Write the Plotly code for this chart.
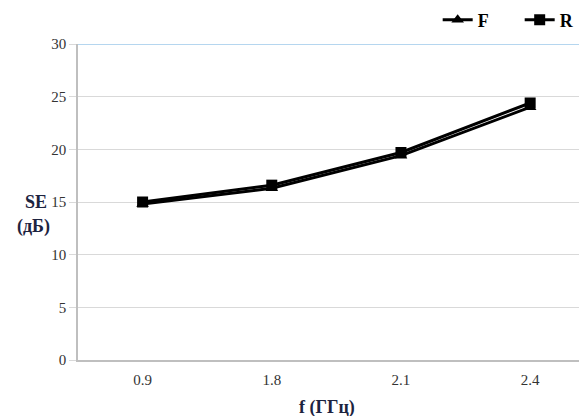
import plotly.graph_objects as go

categories = ["0.9", "1.8", "2.1", "2.4"]
F_values = [14.8, 16.3, 19.4, 24.0]
R_values = [15.0, 16.6, 19.7, 24.4]
y_ticks = [0, 5, 10, 15, 20, 25, 30]

serif = "Liberation Serif"

fig = go.Figure()
fig.add_trace(go.Scatter(
    x=categories, y=F_values, name="F", mode="lines+markers",
    line=dict(color="black", width=3),
    marker=dict(symbol="triangle-up", size=11, color="black"),
))
fig.add_trace(go.Scatter(
    x=categories, y=R_values, name="R", mode="lines+markers",
    line=dict(color="black", width=3),
    marker=dict(symbol="square", size=11, color="black"),
))

fig.add_shape(type="line", xref="paper", yref="y", x0=0, x1=1, y0=30, y1=30,
              line=dict(color="#9DC8EA", width=1.5))

fig.add_annotation(text="<b>SE</b>", xref="paper", yref="paper", x=-0.082, y=0.5,
                   showarrow=False, font=dict(family=serif, size=18, color="#1C2340"),
                   xanchor="center", yanchor="middle")
fig.add_annotation(text="<b>(дБ)</b>", xref="paper", yref="paper", x=-0.087, y=0.424,
                   showarrow=False, font=dict(family=serif, size=18, color="#1C2340"),
                   xanchor="center", yanchor="middle")
fig.add_annotation(text="<b>f (ГГц)</b>", xref="paper", yref="paper", x=0.49, y=-0.149,
                   showarrow=False, font=dict(family=serif, size=18, color="#1C2340"),
                   xanchor="center", yanchor="middle")

fig.update_layout(
    width=587, height=416,
    margin=dict(l=70, r=8, t=36, b=64, autoexpand=False),
    paper_bgcolor="white", plot_bgcolor="white",
    font=dict(family=serif, size=15, color="#333333"),
    showlegend=True,
    legend=dict(orientation="h", x=0.732, xref="container", xanchor="left",
                y=0.971, yref="container", yanchor="middle",
                font=dict(family=serif, size=18, color="black", weight="bold"),
                entrywidth=37, bgcolor="rgba(0,0,0,0)"),
    xaxis=dict(type="category", range=[-0.5, 3.44], showgrid=False,
               showline=True, linecolor="#BFBFBF", linewidth=1.5,
               ticks="", ticklabelstandoff=5,
               tickfont=dict(family=serif, size=15, color="#333333")),
    yaxis=dict(range=[0, 30], tickvals=y_ticks, showgrid=True, gridcolor="#D9D9D9",
               gridwidth=1.2, zeroline=False, showline=True, linecolor="#BFBFBF",
               linewidth=1.5, ticks="outside", ticklen=7, tickcolor="#D9D9D9",
               tickfont=dict(family=serif, size=15, color="#333333")),
)

fig.write_html("out.html")
